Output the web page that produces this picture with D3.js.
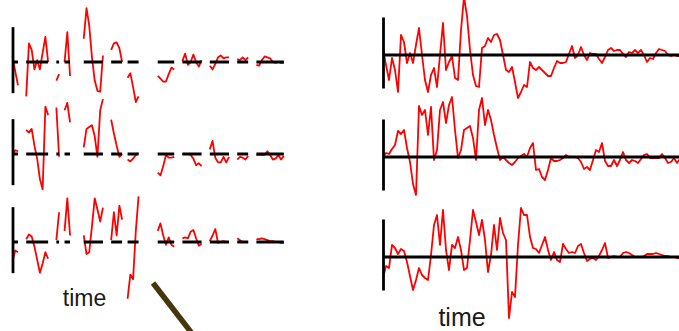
<!DOCTYPE html>
<html>
<head>
<meta charset="utf-8">
<script src="https://cdn.jsdelivr.net/npm/d3@7"></script>
<style>
  html, body { margin: 0; padding: 0; background: #ffffff; }
  svg { display: block; }
</style>
</head>
<body>
<svg id="chart" width="679" height="331"></svg>
<script>
// Three recorded signals sampled on a common time grid
const seriesTop = [
  0.6, -1.0, -2.5, -0.3, -1.5, -3.7, 2.0, 1.3, -0.8, 0.2,
  -0.8, 1.0, 2.7, 0.0, -2.5, -3.7, -2.0, -1.3, -3.2, 0.0,
  3.2, -1.5, -0.7, -0.1, -2.3, -2.5, 2.5, 5.8, 3.9, 0.5,
  -2.0, -3.1, -3.2, 0.7, 0.9, 1.7, 1.3, 2.0, 2.1, 1.5,
  0.0, -1.5, -1.7, -1.2, -2.7, -4.3, -3.7, -3.0, -3.2, -0.7,
  -1.3, -1.5, -1.2, -1.5, -1.8, -2.1, -2.1, -1.3, -0.6, -0.8,
  -0.8, -0.7, 0.1, 0.9, -0.3, 0.0, 0.8, 0.0, -0.5, 0.2,
  0.1, 0.1, -0.4, -0.8, -0.2, 0.5, 0.7, 0.4, 0.5, 0.5,
  0.1, -0.2, 0.3, 0.2, 0.5, 0.2, 0.5, 0.0, -0.7, -0.3,
  -0.4, 0.2, 0.6, 0.5, 0.4, 0.0, -0.1, 0.0, -0.1, -0.1
];
const seriesMiddle = [
  0.0, 0.4, 0.3, 0.8, 1.2, 2.6, 2.3, 2.7, 0.9, -0.5,
  -2.7, -3.8, 5.1, 4.2, 4.7, 2.2, 5.0, -0.3, 0.7, 4.7,
  5.5, 3.4, 5.2, 6.0, 2.7, -0.1, 0.7, 2.7, 2.9, 3.1,
  1.9, -0.3, 4.7, 5.9, 3.2, 4.7, 3.7, 2.2, 0.9, -0.3,
  0.0, -0.3, -0.6, -0.8, -0.5, -0.1, 0.1, 0.3, 0.0, 0.9,
  1.4, -1.3, -1.2, -2.0, -2.3, -1.3, -0.1, -0.4, -0.4, -0.3,
  -0.1, 0.2, 0.0, 0.0, 0.0, -0.1, -0.5, -1.2, -1.0, -1.3,
  -0.3, 0.7, 0.5, 1.4, -0.4, -0.9, -0.9, -0.3, -0.9, -0.3,
  0.5, -0.3, -0.6, -0.3, -0.4, -0.6, -0.2, 0.2, 0.3, -0.1,
  -0.1, -0.1, -0.1, 0.3, -0.1, -0.6, -0.5, -0.1, -0.6, -0.2
];
const seriesBottom = [
  -2.1, -0.9, -1.1, 1.2, 0.9, 0.3, 0.8, 0.6, -0.5, -1.9,
  -3.3, -2.3, -1.1, -1.8, -2.1, -2.3, 0.2, 3.2, 4.2, 1.2,
  4.7, 0.7, -1.3, 1.2, 0.9, 2.0, 0.7, -1.3, -1.1, 1.7,
  4.7, 3.5, 2.2, 3.7, 1.7, -1.5, 0.2, 3.2, 0.7, 3.9,
  2.4, 1.7, -6.1, -3.5, -4.0, 1.2, 4.9, 4.2, 4.2, 2.0,
  0.9, 0.8, 0.4, 1.2, 2.0, 0.7, -0.3, 0.5, -0.3, -0.5,
  1.3, 0.8, 0.4, 0.5, 0.4, 1.1, 1.3, 0.4, -0.4, -0.2,
  -0.1, -0.3, 0.1, 0.7, 1.4, -0.1, 0.0, 0.1, 0.0, 0.0,
  0.4, 0.5, 0.4, 0.2, 0.0, 0.0, 0.0, 0.1, 0.3, 0.3,
  0.3, 0.4, 0.3, 0.2, 0.1, 0.1, 0.0, 0.0, -0.1, -0.1
];

// Stretches of samples (inclusive index ranges) that survive in the gappy record
const observedRuns = [
  [0, 2], [5, 13], [16, 17], [19, 21], [26, 33], [36, 40],
  [42, 46], [53, 59], [62, 69], [72, 79], [82, 86], [89, 99]
];

// Extent marked by the vertical bar at the start of every trace
const barExtent = [-3.3, 3.8];
const axisTitle = "time";

const signals = [seriesTop, seriesMiddle, seriesBottom];
const N = seriesTop.length;
const observed = d3.range(N).map(i => observedRuns.some(([a, b]) => i >= a && i <= b));

// Layout of the two panels: incomplete record (left), complete record (right)
const panels = [
  { left: 12.5, right: 283.8, zero: [62, 154, 242], unit: 9.3, gappy: true,
    title: { x: 84.5, y: 306, size: 23 } },
  { left: 383, right: 680, zero: [55, 157, 257], unit: 10, gappy: false,
    title: { x: 462, y: 326, size: 25 } }
];

const svg = d3.select("#chart");

panels.forEach(p => {
  const g = svg.append("g");
  const x = d3.scaleLinear().domain([0, N - 1]).range([p.left, p.right]);
  const isShown = i => !p.gappy || observed[i];

  signals.forEach((values, r) => {
    const base = p.zero[r];
    const y = d3.scaleLinear().domain([-1, 1]).range([base + p.unit, base - p.unit]);

    // signal trace
    const trace = d3.line()
      .defined((d, i) => isShown(i))
      .x((d, i) => x(i))
      .y(d => y(d));
    g.append("path")
      .datum(values)
      .attr("d", trace)
      .attr("fill", "none")
      .attr("stroke", "#ff0000")
      .attr("stroke-width", 1.8)
      .attr("stroke-linejoin", "round");

    // zero line, broken wherever samples are missing
    const zeroLine = d3.line()
      .defined((d, i) => isShown(i))
      .x((d, i) => x(i))
      .y(() => y(0));
    g.append("path")
      .datum(values)
      .attr("d", zeroLine)
      .attr("fill", "none")
      .attr("stroke", "#000000")
      .attr("stroke-width", 2.8);

    // vertical bar drawn as a tickless left axis
    const barScale = d3.scaleLinear().domain(barExtent).range([y(barExtent[0]), y(barExtent[1])]);
    const bar = g.append("g")
      .attr("transform", `translate(${p.left},0)`)
      .call(d3.axisLeft(barScale).tickValues([]).tickSizeOuter(0));
    bar.select(".domain")
      .attr("stroke", "#000000")
      .attr("stroke-width", 2.8);
  });

  g.append("text")
    .attr("x", p.title.x)
    .attr("y", p.title.y)
    .attr("text-anchor", "middle")
    .attr("font-family", "'Liberation Sans', Arial, Helvetica, sans-serif")
    .attr("font-size", p.title.size)
    .attr("fill", "#1a1a1a")
    .text(axisTitle);
});

// connector stroke between the two panels
svg.append("line")
  .attr("x1", 153).attr("y1", 283)
  .attr("x2", 194).attr("y2", 336)
  .attr("stroke", "#46360c")
  .attr("stroke-width", 5.5);
</script>
</body>
</html>
